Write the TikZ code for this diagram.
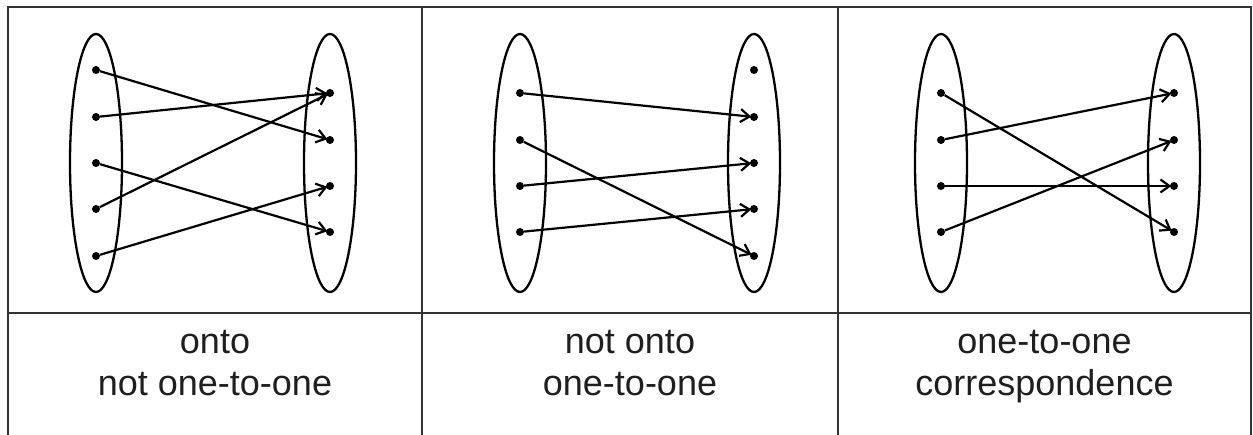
\documentclass[tikz,border=0pt]{standalone}
\usepackage{fontspec}
\setmainfont{Liberation Sans}
\usetikzlibrary{arrows.meta}
\begin{document}
\begin{tikzpicture}[x=1pt,y=-1pt,
  dot/.style={circle,fill=black,inner sep=0pt,minimum size=8pt},
  arr/.style={line width=2.2pt,-{Straight Barb[length=9pt,width=13pt,line width=2.2pt]},shorten >=-1.5pt},
  setline/.style={line width=2.3pt},
  grid/.style={line width=1.3pt,draw=black!80},
  lbl/.style={align=center,text=black!88,font=\fontsize{36}{42}\selectfont}]
\useasboundingbox (0,0) rectangle (1253,435);
% table
\draw[grid] (8,435) -- (8,7) -- (1251,7) -- (1251,435);
\draw[grid] (8,313) -- (1251,313);
\draw[grid] (422,7) -- (422,435);
\draw[grid] (838,7) -- (838,435);
% ellipses
\foreach \cx in {96,330,520,754,941,1174}
  \draw[setline] (\cx,163) ellipse [x radius=26, y radius=129];
% panel 1
\node[dot] (a1) at (96,70) {};
\node[dot] (a2) at (96,117) {};
\node[dot] (a3) at (96,163) {};
\node[dot] (a4) at (96,209) {};
\node[dot] (a5) at (96,256) {};
\node[dot] (b1) at (330,93) {};
\node[dot] (b2) at (330,140) {};
\node[dot] (b3) at (330,186) {};
\node[dot] (b4) at (330,232) {};
\draw[arr] (a1) -- (b2);
\draw[arr] (a2) -- (b1);
\draw[arr] (a3) -- (b4);
\draw[arr] (a4) -- (b1);
\draw[arr] (a5) -- (b3);
% panel 2
\node[dot] (c1) at (520,93) {};
\node[dot] (c2) at (520,140) {};
\node[dot] (c3) at (520,186) {};
\node[dot] (c4) at (520,232) {};
\node[dot] (d1) at (754,70) {};
\node[dot] (d2) at (754,117) {};
\node[dot] (d3) at (754,163) {};
\node[dot] (d4) at (754,209) {};
\node[dot] (d5) at (754,256) {};
\draw[arr] (c1) -- (d2);
\draw[arr] (c2) -- (d5);
\draw[arr] (c3) -- (d3);
\draw[arr] (c4) -- (d4);
% panel 3
\node[dot] (e1) at (941,93) {};
\node[dot] (e2) at (941,140) {};
\node[dot] (e3) at (941,186) {};
\node[dot] (e4) at (941,232) {};
\node[dot] (f1) at (1174,93) {};
\node[dot] (f2) at (1174,140) {};
\node[dot] (f3) at (1174,186) {};
\node[dot] (f4) at (1174,232) {};
\draw[arr] (e1) -- (f4);
\draw[arr] (e2) -- (f1);
\draw[arr] (e3) -- (f3);
\draw[arr] (e4) -- (f2);
% labels
\node[lbl] (t1) at (215,366) {onto\strut\\not one-to-one\strut};
\node[lbl] (t2) at (630,366) {not onto\strut\\one-to-one\strut};
\node[lbl] (t3) at (1044.5,366) {one-to-one\strut\\correspondence\strut};
\end{tikzpicture}
\end{document}
